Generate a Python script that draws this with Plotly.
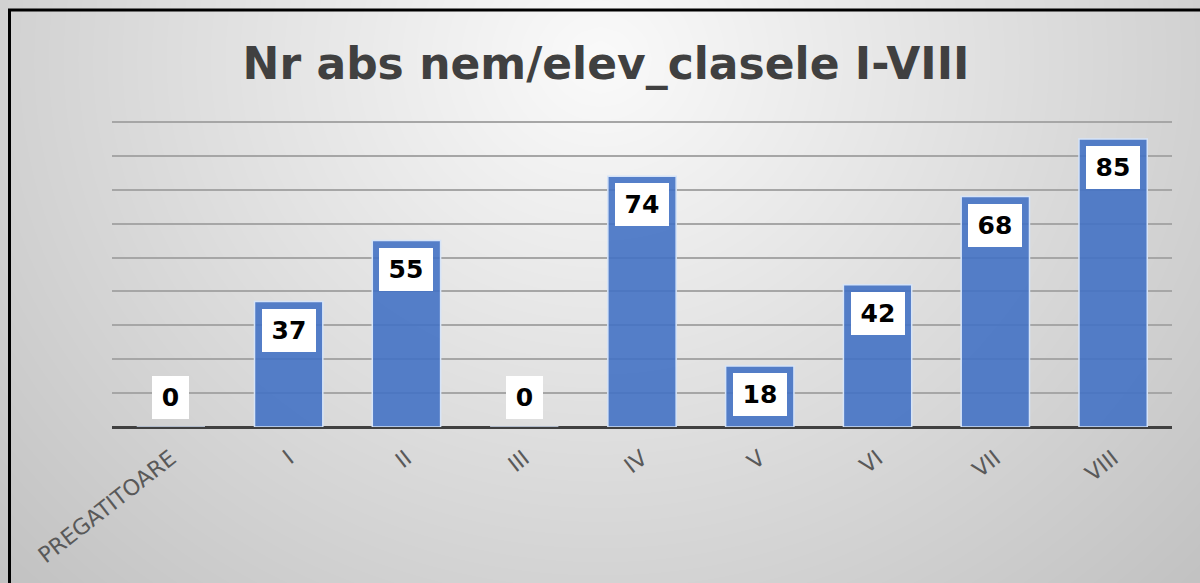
import numpy as np
import plotly.graph_objects as go

categories = ["PREGATITOARE", "I", "II", "III", "IV", "V", "VI", "VII", "VIII"]
values = [0, 37, 55, 0, 74, 18, 42, 68, 85]
title_text = "Nr abs nem/elev_clasele I-VIII"

W, H = 1200, 583

# --- background radial gradient (decoration only) ---
gx = np.linspace(0, W, 61)
gy = np.linspace(0, H, 31)
GX, GY = np.meshgrid(gx, gy)
dist = np.sqrt((GX - 600) ** 2 + ((GY - 60) * 1.1) ** 2)
shade = np.clip(250 - 0.068 * dist, 190, 250)

fig = go.Figure()
fig.add_trace(go.Heatmap(
    x=gx, y=gy, z=shade, zmin=0, zmax=255, zsmooth="best",
    colorscale=[[0, "rgb(0,0,0)"], [1, "rgb(255,255,255)"]],
    showscale=False, hoverinfo="skip", xaxis="x", yaxis="y",
))

fig.add_trace(go.Bar(
    x=categories, y=values, xaxis="x2", yaxis="y2",
    marker=dict(color="rgba(68,114,196,0.9)",
                line=dict(color="rgba(214,228,248,1)", width=1.5)),
    width=0.58, hoverinfo="x+y",
))

annotations = []
for c, v in zip(categories, values):
    s = str(v)
    if v > 0:
        ya, ys = "top", -7
    else:
        ya, ys = "bottom", 8
    annotations.append(dict(
        x=c, y=v, xref="x2", yref="y2", text="<b>%s</b>" % s, showarrow=False,
        yanchor=ya, yshift=ys, bgcolor="white", borderpad=0, borderwidth=0,
        width=20 + 17 * len(s), height=43,
        font=dict(family="DejaVu Sans", size=25, color="black"),
    ))

y_top = 91
px_per_unit = (427 - 122) / 90
top_px = 427 - y_top * px_per_unit

fig.update_layout(
    width=W, height=H, margin=dict(l=0, r=0, t=0, b=0, autoexpand=False),
    paper_bgcolor="#d8d8d8", plot_bgcolor="rgba(0,0,0,0)",
    showlegend=False,
    xaxis=dict(domain=[0, 1], range=[0, W], visible=False, fixedrange=True,
               automargin=False),
    yaxis=dict(domain=[0, 1], range=[H, 0], visible=False, fixedrange=True,
               automargin=False),
    xaxis2=dict(domain=[112 / W, 1172 / W], anchor="y2", showgrid=False,
                tickangle=-38, ticks="outside", ticklen=9,
                tickcolor="rgba(0,0,0,0)", showline=False, automargin=False,
                tickfont=dict(family="DejaVu Sans", size=22, color="#595959")),
    yaxis2=dict(domain=[(H - 427) / H, (H - top_px) / H], anchor="x2",
                range=[0, y_top], dtick=10, showticklabels=False, automargin=False,
                showgrid=True, gridcolor="#a6a6a6", gridwidth=2,
                zeroline=True, zerolinecolor="#404040", zerolinewidth=3),
    title=dict(text="<b>%s</b>" % title_text, x=606 / W, xanchor="center",
               y=1 - 64 / H, yanchor="middle", automargin=False,
               font=dict(family="DejaVu Sans", size=44, color="#404040")),
    annotations=annotations,
    shapes=[dict(type="rect", xref="paper", yref="paper",
                 x0=9.5 / W, x1=1.05, y0=-0.05, y1=1 - 10 / H,
                 line=dict(color="black", width=3))],
)

fig.write_html("out.html",
               config={"displayModeBar": False},
               post_script="document.body.style.margin='0';"
                           "document.body.style.overflow='hidden';")
